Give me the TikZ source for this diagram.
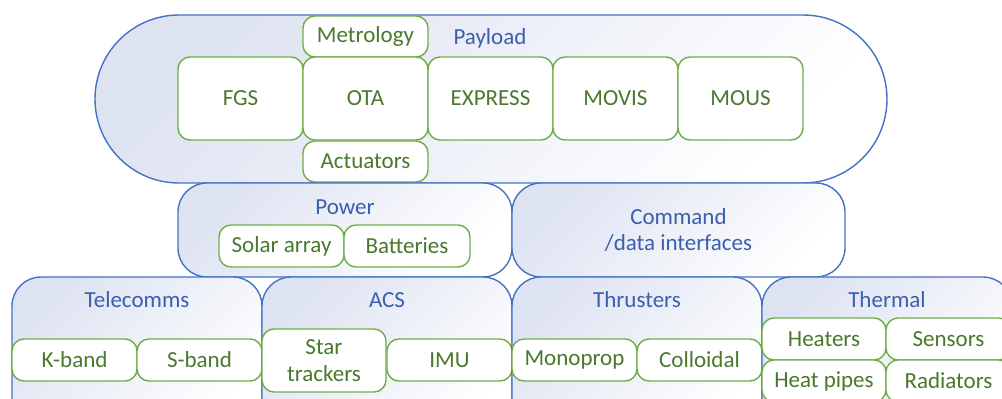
\documentclass[tikz,border=0pt]{standalone}
\usepackage{fontspec}
\setmainfont{Carlito}
\usetikzlibrary{shapes.misc}
\definecolor{bstroke}{RGB}{68,114,196}
\definecolor{btext}{RGB}{58,95,175}
\definecolor{gstroke}{RGB}{112,173,71}
\definecolor{gtext}{RGB}{74,120,44}
\definecolor{shadec}{RGB}{222,227,242}
\begin{document}
\begin{tikzpicture}[x=1pt,y=-1pt,
  every node/.style={inner sep=0pt, outer sep=0pt},
  shaded/.style={top color=shadec, middle color=white, bottom color=white, shading angle=45},
  container/.style={draw=bstroke, line width=1.4pt, rounded corners=29pt, shaded},
  gbox/.style={draw=gstroke, line width=1.4pt, rounded corners=12pt, fill=white, text=gtext, font=\fontsize{23}{27}\selectfont, align=center},
  blabel/.style={text=btext, font=\fontsize{23}{27}\selectfont, align=center}]
\useasboundingbox (0,0) rectangle (1002,399);
\clip (0,0) rectangle (1002,399);
% Payload
\node[rounded rectangle, draw=bstroke, line width=1.4pt, shaded, minimum width=792pt, minimum height=168pt] (payload) at (491,99) {};
\node[blabel] (payloadlbl) at (490,38) {Payload};
\node[gbox, minimum width=125pt, minimum height=41pt] (metrology) at (365.5,36.5) {Metrology};
\node[gbox, minimum width=125pt, minimum height=83pt] (fgs) at (240.5,98.5) {FGS};
\node[gbox, minimum width=125pt, minimum height=83pt] (ota) at (365.5,98.5) {OTA};
\node[gbox, minimum width=125pt, minimum height=83pt] (express) at (490.5,98.5) {EXPRESS};
\node[gbox, minimum width=125pt, minimum height=83pt] (movis) at (615.5,98.5) {MOVIS};
\node[gbox, minimum width=125pt, minimum height=83pt] (mous) at (740.5,98.5) {MOUS};
\node[gbox, minimum width=125pt, minimum height=41pt] (actuators) at (365.5,161.5) {Actuators};
% Power
\node[container, minimum width=334pt, minimum height=94pt] (power) at (345,230) {};
\node[blabel] (powerlbl) at (345,207) {Power};
\node[gbox, minimum width=125pt, minimum height=42pt] (solar) at (281.5,246) {Solar array};
\node[gbox, minimum width=126pt, minimum height=42pt] (batteries) at (407,246) {Batteries};
% Command
\node[container, minimum width=333pt, minimum height=94pt] (command) at (678.5,230) {};
\node[blabel] (commandlbl) at (678.5,230) {Command\\/data interfaces};
% Bottom row
\node[container, minimum width=250pt, minimum height=153pt] (telecomms) at (137,353.5) {};
\node[blabel] (telecommslbl) at (137,300) {Telecomms};
\node[gbox, minimum width=125pt, minimum height=42pt] (kband) at (74.5,360) {K-band};
\node[gbox, minimum width=125pt, minimum height=42pt] (sband) at (199.5,360) {S-band};
\node[container, minimum width=250pt, minimum height=153pt] (acs) at (387,353.5) {};
\node[blabel] (acslbl) at (387,300) {ACS};
\node[gbox, minimum width=124pt, minimum height=63pt] (star) at (324,360.5) {Star\\trackers};
\node[gbox, minimum width=125pt, minimum height=42pt] (imu) at (449.5,360) {IMU};
\node[container, minimum width=250pt, minimum height=153pt] (thrusters) at (637,353.5) {};
\node[blabel] (thrusterslbl) at (637,300) {Thrusters};
\node[gbox, minimum width=125pt, minimum height=42pt] (monoprop) at (574.5,360) {Monoprop};
\node[gbox, minimum width=125pt, minimum height=42pt] (colloidal) at (699.5,360) {Colloidal};
\node[container, minimum width=250pt, minimum height=153pt] (thermal) at (887,353.5) {};
\node[blabel] (thermallbl) at (887,300) {Thermal};
\node[gbox, minimum width=124pt, minimum height=42pt] (heaters) at (824,339) {Heaters};
\node[gbox, minimum width=125pt, minimum height=42pt] (sensors) at (948.5,339) {Sensors};
\node[gbox, minimum width=124pt, minimum height=42pt] (heatpipes) at (824,381) {Heat pipes};
\node[gbox, minimum width=125pt, minimum height=42pt] (radiators) at (948.5,381) {Radiators};
\end{tikzpicture}
\end{document}
